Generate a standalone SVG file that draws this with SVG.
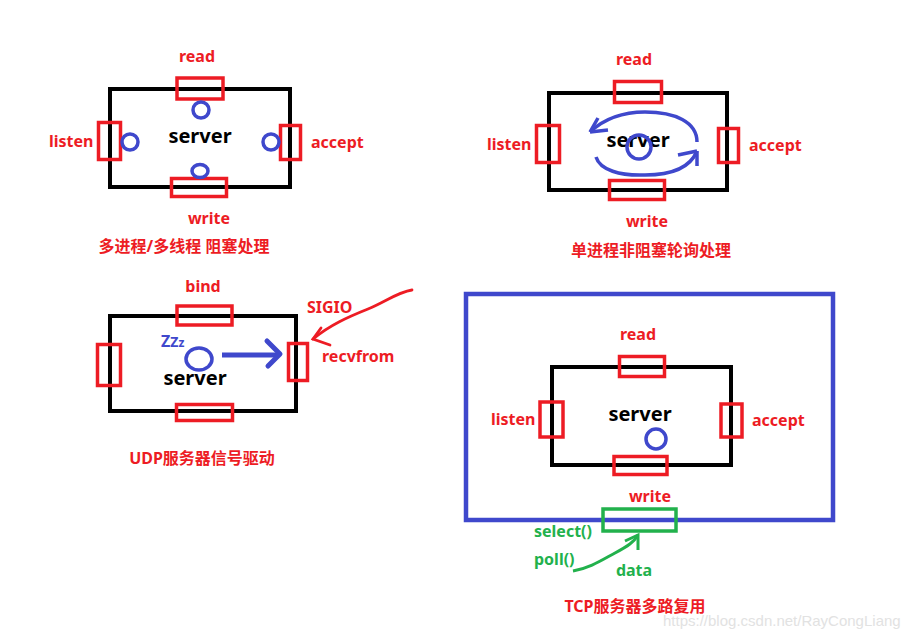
<svg xmlns="http://www.w3.org/2000/svg" width="923" height="638" viewBox="0 0 923 638">
<style>
.bk{fill:none;stroke:#000;stroke-width:4}
.rd{fill:none;stroke:#ed1c24;stroke-width:3.5}
.bl{fill:none;stroke:#3f48cc;stroke-width:3.5}
.gr{fill:none;stroke:#22b14c;stroke-width:3.5}
.t{font-family:"Noto Sans","Noto Sans CJK SC",sans-serif;font-weight:bold;font-size:16px;fill:#ed1c24}
.c{text-anchor:middle}
.sv{font-family:"Noto Sans",sans-serif;font-weight:bold;font-size:20px;fill:#000;text-anchor:middle}
.g{fill:#22b14c}
</style>
<rect width="923" height="638" fill="#fff"/>

<g id="panel1">
<rect class="bk" x="110" y="89" width="180" height="98"/>
<rect class="rd" x="177" y="78" width="46" height="21"/>
<rect class="rd" x="98.5" y="122.5" width="22" height="37"/>
<rect class="rd" x="280.5" y="125.5" width="20" height="34"/>
<rect class="rd" x="171.5" y="178.5" width="55" height="18"/>
<circle class="bl" cx="201" cy="110" r="8"/>
<circle class="bl" cx="130" cy="142" r="8"/>
<circle class="bl" cx="271" cy="142" r="8"/>
<ellipse class="bl" cx="200" cy="171" rx="8" ry="6.5"/>
<text class="t c" x="197" y="62">read</text>
<text class="t" x="49" y="147">listen</text>
<text class="t" x="311" y="148">accept</text>
<text class="sv" x="200" y="143">server</text>
<text class="t c" x="209" y="224">write</text>
<text class="t c" x="184" y="252">多进程/多线程 阻塞处理</text>
</g>

<g id="panel2">
<rect class="bk" x="549" y="93" width="178" height="97"/>
<rect class="rd" x="614.5" y="81.5" width="47" height="21"/>
<rect class="rd" x="536.5" y="125.5" width="23" height="37"/>
<rect class="rd" x="718.5" y="128.5" width="20" height="34"/>
<rect class="rd" x="609.5" y="180.5" width="55" height="19"/>
<text class="sv" x="638" y="147">server</text>
<circle class="bl" cx="639" cy="147" r="12" stroke-width="2.5"/>
<path class="bl" d="M590,132 C605,118 625,112 645,112 C675,112 697,122 697,142" stroke-width="3"/>
<path class="bl" d="M590,132 L598,118 M590,132 L608,130" stroke-width="3"/>
<path class="bl" d="M596,157 C600,170 620,176 645,175 C670,175 690,168 697,151" stroke-width="3"/>
<path class="bl" d="M697,151 L678,155 M697,151 L697,166" stroke-width="3"/>
<text class="t c" x="634" y="65">read</text>
<text class="t" x="487" y="150">listen</text>
<text class="t" x="749" y="151">accept</text>
<text class="t c" x="647" y="227">write</text>
<text class="t c" x="651" y="256">单进程非阻塞轮询处理</text>
</g>

<g id="panel3">
<rect class="bk" x="110" y="316" width="186" height="95"/>
<rect class="rd" x="177" y="306" width="55" height="19"/>
<rect class="rd" x="97.5" y="344.5" width="23" height="41"/>
<rect class="rd" x="288.5" y="343.5" width="19" height="37"/>
<rect class="rd" x="176.5" y="404.5" width="56" height="16"/>
<ellipse class="bl" cx="199" cy="359" rx="13" ry="11"/>
<text x="161" y="347" font-family="Noto Sans,sans-serif" font-weight="bold" fill="#3f48cc"><tspan font-size="16">Z</tspan><tspan font-size="14">Z</tspan><tspan font-size="12">z</tspan></text>
<text class="sv" x="195" y="385" font-size="24">server</text>
<text class="t c" x="203" y="292">bind</text>
<text class="t" x="307" y="313">SIGIO</text>
<text class="t" x="322" y="362">recvfrom</text>
<text class="t c" x="202" y="464">UDP服务器信号驱动</text>
</g>

<g id="panel4">
<rect fill="none" stroke="#3f48cc" stroke-width="4.5" x="466" y="294" width="367" height="226"/>
<rect class="bk" x="552" y="367" width="179" height="98"/>
<rect class="rd" x="619.5" y="356.5" width="45" height="20"/>
<rect class="rd" x="540" y="402" width="23" height="35"/>
<rect class="rd" x="721" y="404" width="21" height="33"/>
<rect class="rd" x="614" y="456.5" width="53" height="18"/>
<circle class="bl" cx="656" cy="439" r="10"/>
<rect class="gr" x="603" y="509" width="73" height="22"/>
<text class="t c" x="638" y="340">read</text>
<text class="t" x="491" y="425">listen</text>
<text class="t" x="752" y="426">accept</text>
<text class="sv" x="640" y="421">server</text>
<text class="t c" x="650" y="502">write</text>
<text class="t g" x="534" y="537">select()</text>
<text class="t g" x="534" y="565">poll()</text>
<text class="t g c" x="634" y="576">data</text>
<text class="t c" x="635" y="612">TCP服务器多路复用</text>
</g>

<g id="connectors">
<path d="M222,355 L278,355" stroke="#3f48cc" stroke-width="5" fill="none"/>
<path d="M267,341 L280,354 L268,366" stroke="#3f48cc" stroke-width="5" fill="none" stroke-linecap="round" stroke-linejoin="round"/>
<path d="M412,290 C398,292 385,302 368,309 C348,317 330,325 313,339" fill="none" stroke="#ed1c24" stroke-width="2.8" stroke-linecap="round"/>
<path d="M321,328 L313,339 L330,345" fill="none" stroke="#ed1c24" stroke-width="2.8" stroke-linecap="round"/>
<path d="M573,571 C590,568 602,560 615,553 C628,546 634,542 638,535" fill="none" stroke="#22b14c" stroke-width="3"/>
<path d="M625,541 L638,535 L638,550" fill="none" stroke="#22b14c" stroke-width="3"/>
</g>

<text x="663" y="626" font-family="Liberation Sans,Arial,sans-serif" font-size="15" fill="#e2e2e2">https://blog.csdn.net/RayCongLiang</text>
</svg>
